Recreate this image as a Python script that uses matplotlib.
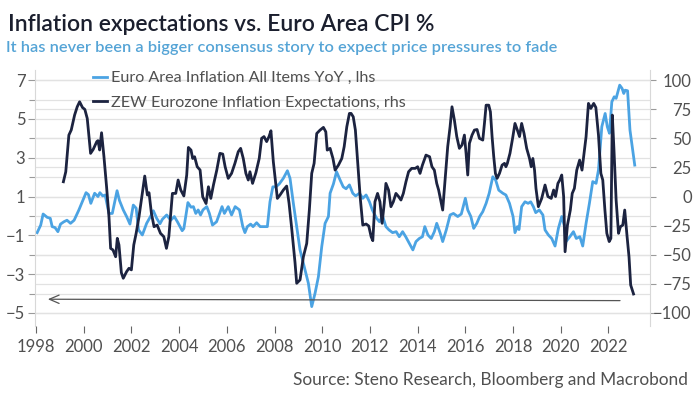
import numpy as np
import matplotlib.pyplot as plt
from matplotlib.transforms import blended_transform_factory

plt.rcParams['font.family'] = ['Lato', 'DejaVu Sans']

# Euro Area Inflation All Items YoY (lhs)
cpi_t = [1998.05, 1998.2, 1998.3, 1998.47, 1998.6, 1998.68, 1998.8, 1998.92, 1999.03, 1999.17,
         1999.3, 1999.45, 1999.6, 1999.8, 2000.0, 2000.1, 2000.2, 2000.3, 2000.46, 2000.6,
         2000.68, 2000.8, 2000.9, 2001.06, 2001.2, 2001.4, 2001.5, 2001.66, 2001.8, 2001.94,
         2002.08, 2002.2, 2002.3, 2002.46, 2002.64, 2002.8, 2002.92, 2003.06, 2003.2, 2003.3,
         2003.48, 2003.65, 2003.8, 2003.93, 2004.13, 2004.2, 2004.37, 2004.5, 2004.6, 2004.7,
         2004.8, 2004.9, 2005.0, 2005.16, 2005.27, 2005.4, 2005.57, 2005.7, 2005.8, 2005.9,
         2006.06, 2006.2, 2006.35, 2006.53, 2006.67, 2006.76, 2006.86, 2007.0, 2007.1, 2007.25,
         2007.4, 2007.7, 2007.81, 2007.93, 2008.06, 2008.2, 2008.37, 2008.54, 2008.65, 2008.79,
         2008.93, 2009.07, 2009.28, 2009.42, 2009.56, 2009.7, 2009.84, 2009.98, 2010.12, 2010.26,
         2010.33, 2010.47, 2010.6, 2010.75, 2010.88, 2011.0, 2011.14, 2011.28, 2011.4, 2011.56,
         2011.7, 2011.84, 2011.98, 2012.1, 2012.28, 2012.4, 2012.53, 2012.67, 2012.8, 2012.95,
         2013.1, 2013.23, 2013.37, 2013.5, 2013.65, 2013.8, 2013.93, 2014.07, 2014.2, 2014.3,
         2014.43, 2014.57, 2014.7, 2014.8, 2014.95, 2015.05, 2015.2, 2015.36, 2015.5, 2015.68,
         2015.83, 2016.0, 2016.1, 2016.23, 2016.35, 2016.48, 2016.6, 2016.73, 2016.87, 2017.0,
         2017.15, 2017.27, 2017.4, 2017.57, 2017.7, 2017.85, 2018.0, 2018.08, 2018.18, 2018.25,
         2018.36, 2018.5, 2018.63, 2018.74, 2018.85, 2018.95, 2019.1, 2019.25, 2019.34, 2019.48,
         2019.62, 2019.76, 2019.9, 2020.04, 2020.14, 2020.22, 2020.38, 2020.53, 2020.65, 2020.8,
         2020.92, 2021.06, 2021.2, 2021.34, 2021.48, 2021.58, 2021.72, 2021.86, 2021.95, 2022.04,
         2022.14, 2022.24, 2022.32, 2022.47, 2022.57, 2022.64, 2022.7, 2022.8, 2022.9, 2023.1]
cpi_v = [-0.86, -0.47, 0.10, -0.07, -0.12, -0.55, -0.6, -0.81, -0.42, -0.30,
         -0.22, -0.38, -0.22, 0.31, 0.91, 1.2, 1.1, 0.65, 1.17, 1.0,
         1.2, 1.03, 1.08, 0.13, 0.13, 1.3, 0.8, 0.31, -0.03, -0.42,
         0.56, 0.4, -0.72, -0.98, -0.38, -0.03, 0.27, -0.12, -0.40, -0.17,
         0.05, -0.22, -0.03, -0.3, -0.76, -0.65, 0.69, 0.45, 0.48, 0.13,
         0.31, 0.05, 0.31, 0.48, 0.13, -0.47, -0.30, 0.13, 0.48, 0.13,
         0.48, 0.05, 0.48, 0.31, -0.55, -0.86, -0.55, -0.42, -0.55, -0.35,
         -0.55, -0.55, 0.73, 1.5, 1.5, 1.65, 1.94, 2.33, 1.94, 0.65,
         -0.55, -1.75, -2.78, -3.47, -4.67, -3.98, -3.13, -1.58, -0.38, -0.03,
         1.17, 1.65, 2.28, 1.85, 1.5, 1.4, 1.6, 1.17, 1.03, 1.17,
         0.91, 1.08, 0.73, 0.31, -0.12, -0.30, 0.0, -0.55, -0.72, -0.86,
         -0.81, -1.07, -0.81, -1.07, -1.41, -1.75, -1.32, -1.16, -1.07, -0.55,
         -0.98, -1.16, -0.81, -0.38, -0.90, -1.32, -0.72, 0.05, 0.13, -0.03,
         0.1, 0.91, 0.31, -0.03, -0.64, -0.38, -0.03, 0.22, 0.65, 1.17,
         2.02, 1.85, 1.33, 1.17, 1.08, 0.65, -0.03, -0.86, -0.55, -0.7,
         0.48, 0.73, 0.65, 0.73, 0.48, 0.17, 0.31, 0.05, -0.72, -0.98,
         -1.16, -1.55, -0.64, -0.03, -0.47, -1.32, -1.07, -0.81, -1.16, -1.07,
         -1.55, -0.38, 0.65, 1.77, 1.68, 2.37, 4.6, 5.28, 4.6, 4.26,
         5.88, 6.14, 6.06, 6.74, 6.57, 6.31, 6.48, 6.45, 4.43, 2.62]

# ZEW Eurozone Inflation Expectations (rhs)
zew_t = [1999.15, 1999.25, 1999.38, 1999.48, 1999.62, 1999.73, 1999.83, 1999.95, 2000.05, 2000.15,
         2000.29, 2000.4, 2000.55, 2000.6, 2000.67, 2000.75, 2000.85, 2000.96, 2001.06, 2001.13,
         2001.23, 2001.34, 2001.41, 2001.48, 2001.58, 2001.66, 2001.8, 2001.9, 2002.0, 2002.1,
         2002.2, 2002.32, 2002.42, 2002.56, 2002.67, 2002.74, 2002.84, 2002.95, 2003.08, 2003.22,
         2003.36, 2003.47, 2003.57, 2003.72, 2003.86, 2003.96, 2004.07, 2004.2, 2004.32, 2004.39,
         2004.5, 2004.57, 2004.65, 2004.76, 2004.88, 2004.99, 2005.13, 2005.23, 2005.33, 2005.44,
         2005.58, 2005.71, 2005.83, 2005.93, 2006.06, 2006.2, 2006.34, 2006.48, 2006.58, 2006.69,
         2006.8, 2006.9, 2006.97, 2007.08, 2007.22, 2007.36, 2007.46, 2007.56, 2007.67, 2007.77,
         2007.85, 2007.95, 2008.06, 2008.12, 2008.23, 2008.37, 2008.51, 2008.61, 2008.72, 2008.86,
         2008.93, 2009.07, 2009.21, 2009.35, 2009.46, 2009.56, 2009.66, 2009.77, 2009.91, 2010.05,
         2010.15, 2010.21, 2010.33, 2010.45, 2010.54, 2010.68, 2010.82, 2010.92, 2011.03, 2011.14,
         2011.21, 2011.3, 2011.39, 2011.49, 2011.59, 2011.7, 2011.84, 2011.95, 2012.05, 2012.12,
         2012.21, 2012.32, 2012.42, 2012.51, 2012.6, 2012.67, 2012.78, 2012.88, 2012.98, 2013.09,
         2013.2, 2013.3, 2013.4, 2013.51, 2013.62, 2013.75, 2013.9, 2014.0, 2014.1, 2014.2,
         2014.35, 2014.5, 2014.6, 2014.7, 2014.8, 2014.88, 2014.98, 2015.05, 2015.16, 2015.26,
         2015.36, 2015.44, 2015.54, 2015.64, 2015.75, 2015.86, 2015.96, 2016.03, 2016.1, 2016.17,
         2016.28, 2016.38, 2016.49, 2016.59, 2016.73, 2016.8, 2016.87, 2016.98, 2017.05, 2017.12,
         2017.19, 2017.26, 2017.33, 2017.43, 2017.54, 2017.64, 2017.7, 2017.76, 2017.87, 2017.98,
         2018.08, 2018.18, 2018.27, 2018.36, 2018.46, 2018.57, 2018.69, 2018.76, 2018.83, 2018.9,
         2018.96, 2019.06, 2019.2, 2019.34, 2019.46, 2019.6, 2019.7, 2019.78, 2019.88, 2019.96,
         2020.04, 2020.12, 2020.18, 2020.28, 2020.4, 2020.48, 2020.57, 2020.67, 2020.79, 2020.89,
         2020.99, 2021.06, 2021.16, 2021.26, 2021.38, 2021.47, 2021.58, 2021.68, 2021.76, 2021.85,
         2021.93, 2022.03, 2022.1, 2022.16, 2022.23, 2022.32, 2022.42, 2022.5, 2022.6, 2022.68,
         2022.78, 2022.86, 2022.93, 2023.05]
zew_v = [12.7, 21.3, 52.8, 57.2, 70, 77.1, 81.4, 76.5, 74.8, 67.1,
         37.1, 40.5, 47.2, 48, 40, 54.8, 34.3, 8.4, -17.3, -44.5,
         -45.9, -51.7, -35.9, -41.6, -65.4, -70.2, -64.5, -61.6, -63, -41.6,
         -31.6, -17.3, -3, 17.6, 1.3, 3.3, -14.4, -25.9, -24.5, -31.6,
         -34.5, -44.5, -34.5, 2.7, 2.7, 14.2, 5.6, 0.5, 18.5, 42.2,
         39.9, 32.7, 34.2, 25.6, 22.8, -0.2, -6, 8.4, -1.6, 9.9,
         22.7, 37.1, 36.5, 25.6, 15.6, 19.9, 28.5, 38.5, 41.4, 32.7,
         19.9, 14.2, 21.3, 11.3, 20.5, 32.8, 50, 51.5, 47.2, 51.5,
         56.5, 30, 9.9, -1.6, 1.3, 5.6, 9, -5.8, -27.3, -56.8,
         -74.5, -71.6, -51.7, -40.3, -11.6, 19.9, 28.5, 54.2, 57.1, 59.4,
         55.6, 39.9, 41.4, 32.7, 22.7, 27, 32.7, 42.8, 59.9, 71.4,
         71.4, 68.5, 57.1, 28.5, -0.2, -24.5, -23.6, -25.3, -34.5, -37.9,
         -4.5, 2.7, -4.5, -23, -5.8, 11.3, 5.6, -8.7, -4.5, 2.7,
         0, -3, 2.7, 12.7, 21.3, 24.2, 24.2, 25.6, 19.9, 27,
         35.6, 34.2, 25.6, 22.7, 11.3, 5.6, -4.5, -11.6, 17, 42.8,
         60, 77.1, 65.7, 51.5, 41.4, 44.3, 52.8, 37.1, 18.5, 45.7,
         52.8, 57.1, 57.6, 50, 48.5, 62.8, 78.5, 78.5, 72.8, 51.5,
         34.2, 19.9, 15.6, 19.9, 27, 28.5, 25.6, 28.5, 37.1, 50,
         62.8, 57.1, 51.5, 62.8, 54.2, 41.4, 32.7, 25.6, 32.7, 22.7,
         7, -8.7, -1.6, 9.9, 0, -1.6, 5.6, 0, 11.3, 14.2,
         18.5, 0, -47.4, -24.5, -11.6, 2.7, 7, 22.7, 31.3, 22.7,
         39.9, 51.4, 80, 75.7, 80, 76.5, 52.8, 19.9, 14.2, -11.6,
         -31.6, -38.7, -35.9, 70, 39.9, -3, -31.6, -25.9, -24.5, -11.6,
         -34.5, -51.7, -76, -83.7]

years = list(range(1998, 2023, 2))
lhs_ticks = [7, 5, 3, 1, -1, -3, -5]
rhs_ticks = [100, 75, 50, 25, 0, -25, -50, -75, -100]

blue = '#4ba3e3'
navy = '#1c2340'
grid_c = '#e2e2e2'
txt_c = '#505050'

fig = plt.figure(figsize=(6.96, 3.96), dpi=100)
ax = fig.add_axes([35/696, 1 - 326/396, 615/696, 256/396])
ax2 = ax.twinx()

l1, = ax.plot(cpi_t, cpi_v, color=blue, lw=2.0, solid_joinstyle='round',
              label='Euro Area Inflation All Items YoY , lhs')
l2, = ax2.plot(zew_t, zew_v, color=navy, lw=2.0, solid_joinstyle='round',
               label='ZEW Eurozone Inflation Expectations, rhs')

ax.set_xlim(1997.96, 2023.74)
ax.set_ylim(-5.67, 7.52)
ax2.set_ylim(-111.2, 108.7)

ax.set_xticks(years)
ax.set_yticks(lhs_ticks)
ax.set_yticks(np.arange(-5, 8, 1), minor=True)
ax2.set_yticks(rhs_ticks)

# gridlines for both scales, kept under the lines
ax.set_axisbelow(True)
ax.grid(axis='y', which='both', color=grid_c, lw=0.9)
tr = blended_transform_factory(ax.transAxes, ax2.transData)
for v in rhs_ticks:
    ax.plot([0, 1], [v, v], transform=tr, color=grid_c, lw=0.9, zorder=0.5)

for a in (ax, ax2):
    for s in ('top', 'bottom'):
        a.spines[s].set_visible(False)
ax.spines['right'].set_visible(False)
ax2.spines['left'].set_visible(False)
ax.spines['left'].set_color('#d8d8d8')
ax2.spines['right'].set_color('#d8d8d8')

ax.tick_params(axis='x', length=5, width=0.8, color='#666666', labelsize=12,
               labelcolor=txt_c, pad=4)
ax.tick_params(axis='y', which='major', length=5, width=0.8, color='#9a9a9a',
               labelsize=12, labelcolor=txt_c, pad=2)
ax.tick_params(axis='y', which='minor', length=4, width=0.8, color='#9a9a9a')
ax2.tick_params(axis='y', length=4, width=0.8, color='#9a9a9a', labelsize=12,
                labelcolor=txt_c, pad=26)
plt.setp(ax2.get_yticklabels(), ha='right')

ax2.legend(handles=[l1, l2], loc='upper left', bbox_to_anchor=(0.094, 0.996),
           frameon=False, fontsize=11.6, handlelength=0.85, handletextpad=0.3,
           labelspacing=0.62, borderpad=0, borderaxespad=0, labelcolor=txt_c)

# arrow along the bottom
ax2.annotate('', xy=(1998.38, -88.2), xytext=(2022.6, -89.4),
             arrowprops=dict(arrowstyle='->,head_length=0.7,head_width=0.3',
                             color='#555555', lw=0.9))

fig.text(8/696, 1 - 31/396, 'Inflation expectations vs. Euro Area CPI %',
         fontsize=16.5, fontweight='semibold', color='#1b1f2e', va='baseline')
fig.text(6/696, 1 - 52/396,
         'It has never been a bigger consensus story to expect price pressures to fade',
         fontsize=11.8, fontweight='semibold', color='#55a4d6', va='baseline')
fig.text(688/696, 1 - 385/396, 'Source: Steno Research, Bloomberg and Macrobond',
         fontsize=12.4, color=txt_c, ha='right', va='baseline')

fig.savefig('out.png', dpi=100)
